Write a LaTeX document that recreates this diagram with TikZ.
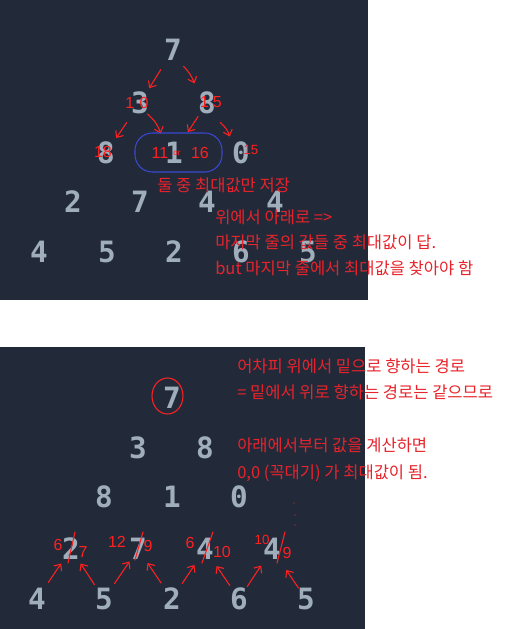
\documentclass[tikz,border=0pt]{standalone}
\usepackage{fontspec}
\newfontfamily\krfont{Noto Sans CJK KR}
\newfontfamily\digitfont{DejaVu Sans Mono}
\newfontfamily\penfont{Liberation Sans}
\usetikzlibrary{arrows.meta, positioning, calc}
\definecolor{panelbg}{HTML}{222A3A}
\definecolor{numgray}{HTML}{A0AEBC}
\definecolor{notered}{HTML}{E8232B}
\definecolor{penred}{HTML}{FF2020}
\definecolor{penblue}{HTML}{3848D0}
\tikzset{
  num/.style={
    font=\digitfont\bfseries\fontsize{22}{22}\selectfont, text=numgray, inner sep=0pt
  },
  note/.style={
    font=\krfont\fontsize{12.4}{15}\selectfont, text=notered, inner sep=0pt,
    text height=10.8pt, text depth=3.2pt
  },
  scrib/.style={
    font=\penfont\fontsize{12}{12}\selectfont, text=penred, inner sep=0pt
  },
  pen/.style={
    draw=penred, line width=0.8pt, line cap=round, -{Straight Barb[length=4pt, width=7pt]}
  },
  penline/.style={
    draw=penred, line width=0.8pt, line cap=round
  },
}

\begin{document}
\begin{tikzpicture}[x=0.75pt, y=-0.75pt]

  %%% Canvas and the two panels %%%
  \fill[white] (0,0) rectangle (512,629);
  \useasboundingbox (0,0) rectangle (512,629);
  \fill[panelbg] (0,0) rectangle (368,300);
  \fill[panelbg] (0,347) rectangle (365,629);

  %%% UPPER triangle %%%
  \node[num] (ua1) at (173,50) {7};
  \node[num] (ub1) at (140,103) {3};
  \node[num] (ub2) at (207,103) {8};
  \node[num] (uc1) at (106,153) {8};
  \node[num] (uc2) at (174,153) {1};
  \node[num] (uc3) at (241,153) {0};
  \node[num] (ud1) at (73,202) {2};
  \node[num] (ud2) at (140,202) {7};
  \node[num] (ud3) at (207,202) {4};
  \node[num] (ud4) at (275,202) {4};
  \node[num] (ue1) at (39,252) {4};
  \node[num] (ue2) at (107,252) {5};
  \node[num] (ue3) at (174,252) {2};
  \node[num] (ue4) at (241,252) {6};
  \node[num] (ue5) at (308,252) {5};

  %%% Hand arrows: top -> bottom %%%
  \draw[pen] ($(ua1)!.37!(ub1)$) -- ($(ua1)!.72!(ub1)$);
  \draw[pen] ($(ua1)!.31!(ub2)$) to[bend left=12] ($(ua1)!.63!(ub2)$);
  \draw[pen] ($(ub1)!.39!(uc1)$) -- ($(ub1)!.70!(uc1)$);
  \draw[pen] ($(ub1)!.22!(uc2)$) to[bend left=15] ($(ub1)!.61!(uc2)$);
  \draw[pen] ($(ub2)!.27!(uc2)$) -- ($(ub2)!.58!(uc2)$);
  \draw[pen] ($(ub2)!.39!(uc3)$) to[bend left=15] ($(ub2)!.67!(uc3)$);

  %%% Hand sums, upper %%%
  \node[scrib] (sb1) at ($(ub1)+(-3,0)$) {1\kern4pt0};
  \node[scrib] (sb2) at ($(ub2)+(4,-1)$) {1\kern3pt5};
  \node[scrib] (sc1) at ($(uc1)+(-3,-1)$) {18};
  \node[scrib] (sc2a) at ($(uc2)+(-14,0)$) {11};
  \node[scrib, font=\penfont\fontsize{6}{6}\selectfont] (sc2b) at ($(uc2)+(3,0)$) {or};
  \node[scrib] (sc2c) at ($(uc2)+(26,0)$) {16};
  \node[scrib, font=\penfont\fontsize{10}{10}\selectfont] (sc3) at ($(uc3)+(10,-3)$) {15};
  \draw[penblue, line width=0.8pt, rounded corners=13pt]
    ($(uc2)+(-39,-20)$) rectangle ($(uc2)+(48,19)$);

  %%% Notes, upper %%%
  \node[note, anchor=west] (n1) at (157,186) {둘 중 최대값만 저장};
  \node[note, anchor=west] (n2) at (215,218) {위에서 아래로 =>};
  \node[note, below=4.5pt of n2.south west, anchor=north west] (n3)
    {마지막 줄의 값들 중 최대값이 답.};
  \node[note, below=5pt of n3.south west, anchor=north west] (n4)
    {but 마지막 줄에서 최대값을 찾아야 함};

  %%% LOWER triangle %%%
  \node[num] (la1) at (172,398) {7};
  \node[num] (lb1) at (138,448) {3};
  \node[num] (lb2) at (205,448) {8};
  \node[num] (lc1) at (104,497) {8};
  \node[num] (lc2) at (172,497) {1};
  \node[num] (lc3) at (239,497) {0};
  \node[num] (ld1) at (71,549) {2};
  \node[num] (ld2) at (138,549) {7};
  \node[num] (ld3) at (205,549) {4};
  \node[num] (ld4) at (272,549) {4};
  \node[num] (le1) at (37,599) {4};
  \node[num] (le2) at (104,599) {5};
  \node[num] (le3) at (172,599) {2};
  \node[num] (le4) at (239,599) {6};
  \node[num] (le5) at (306,599) {5};

  %%% Circle round the apex %%%
  \draw[penline] ($(la1)+(-4.5,-2)$) ellipse [x radius=15.5, y radius=18];

  %%% Hand arrows: bottom -> top %%%
  \draw[pen] ($(le1)!.33!(ld1)$) -- ($(le1)!.71!(ld1)$);
  \draw[pen] ($(le2)!.29!(ld1)$) -- ($(le2)!.71!(ld1)$);
  \draw[pen] ($(le2)!.31!(ld2)$) -- ($(le2)!.75!(ld2)$);
  \draw[pen] ($(le3)!.32!(ld2)$) -- ($(le3)!.72!(ld2)$);
  \draw[pen] ($(le3)!.31!(ld3)$) -- ($(le3)!.68!(ld3)$);
  \draw[pen] ($(le4)!.27!(ld3)$) -- ($(le4)!.66!(ld3)$);
  \draw[pen] ($(le4)!.25!(ld4)$) -- ($(le4)!.67!(ld4)$);
  \draw[pen] ($(le5)!.22!(ld4)$) -- ($(le5)!.58!(ld4)$);

  %%% Hand sums, lower (old value struck out) %%%
  \node[scrib] (sd1a) at ($(ld1)+(-13,-4)$) {6};
  \draw[penline] ($(ld1)+(4,-17)$) -- ($(ld1)+(-3,14)$);
  \node[scrib] (sd1b) at ($(ld1)+(12,3)$) {7};
  \node[scrib] (sd2a) at ($(ld2)+(-21,-7)$) {12};
  \draw[penline] ($(ld2)+(5,-17)$) -- ($(ld2)+(-3,11)$);
  \node[scrib] (sd2b) at ($(ld2)+(10,-3)$) {9};
  \node[scrib] (sd3a) at ($(ld3)+(-15,-6)$) {6};
  \draw[penline] ($(ld3)+(8,-17)$) -- ($(ld3)+(-3,14)$);
  \node[scrib] (sd3b) at ($(ld3)+(17,3)$) {10};
  \node[scrib, font=\penfont\fontsize{10}{10}\selectfont] (sd4a) at ($(ld4)+(-10,-9)$) {10};
  \draw[penline] ($(ld4)+(13,-17)$) -- ($(ld4)+(5,14)$);
  \node[scrib] (sd4b) at ($(ld4)+(15,4)$) {9};

  %%% Stray dots %%%
  \fill[penred] (294,503) circle [radius=0.6];
  \fill[penred] (295,515) circle [radius=0.6];
  \fill[penred] (295,525) circle [radius=0.6];

  %%% Notes, lower %%%
  \node[note, anchor=west] (m1) at (237,367) {어차피 위에서 밑으로 향하는 경로};
  \node[note, below=5.5pt of m1.south west, anchor=north west] (m2)
    {= 밑에서 위로 향하는 경로는 같으므로};
  \node[note, anchor=west] (m3) at (237,446) {아래에서부터 값을 계산하면};
  \node[note, below=6pt of m3.south west, anchor=north west] (m4)
    {0,0 (꼭대기) 가 최대값이 됨.};

\end{tikzpicture}
\end{document}
